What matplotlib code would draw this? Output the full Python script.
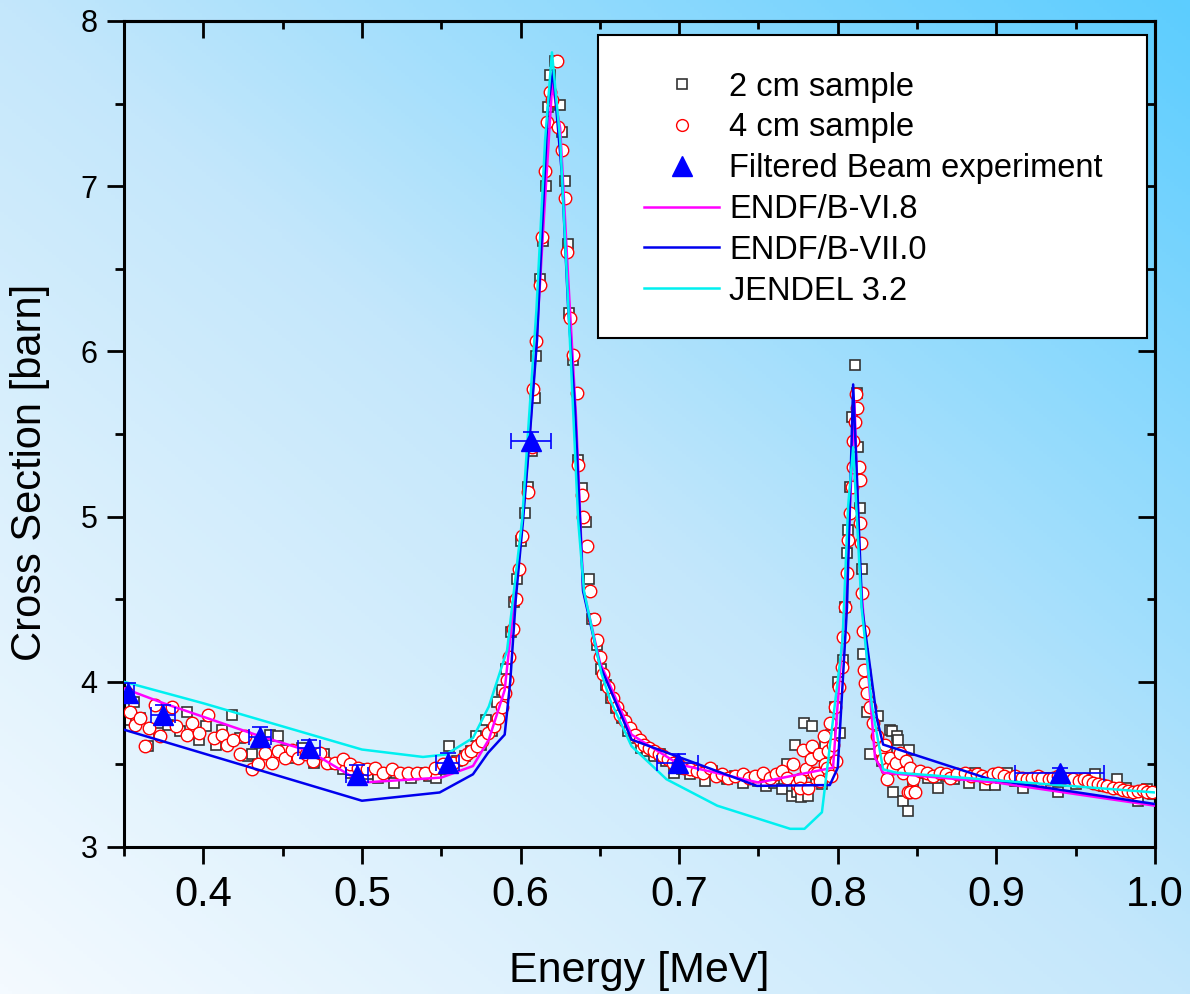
# Sección eficaz total: muestras de 2 cm y 4 cm, haz filtrado y evaluaciones
import numpy as np
import matplotlib
matplotlib.use('Agg')
import matplotlib.pyplot as plt
from matplotlib.colors import LinearSegmentedColormap
from matplotlib.lines import Line2D
from matplotlib.patches import Rectangle

plt.rcParams['font.family'] = ['Liberation Sans', 'DejaVu Sans']

# --- 2 cm sample (cuadrados) ---
sq_x = [0.351, 0.356, 0.360, 0.365, 0.372, 0.378, 0.385, 0.390, 0.397, 0.402,
        0.408, 0.412, 0.418, 0.423, 0.428, 0.431, 0.436, 0.442, 0.447, 0.452,
        0.458, 0.462, 0.470, 0.476, 0.482, 0.488, 0.493, 0.498, 0.504, 0.510,
        0.515, 0.520, 0.526, 0.531, 0.537, 0.542, 0.547, 0.552, 0.555, 0.560,
        0.565, 0.569, 0.572, 0.575, 0.578, 0.582, 0.585,
        0.588, 0.591, 0.594, 0.596, 0.598, 0.600, 0.603, 0.605, 0.607, 0.609,
        0.610, 0.612, 0.614, 0.616, 0.6173, 0.6186, 0.6217, 0.625, 0.626, 0.628,
        0.630, 0.6306, 0.633, 0.636, 0.6388, 0.641, 0.643, 0.645, 0.648, 0.651,
        0.654, 0.657, 0.660, 0.664, 0.668, 0.672, 0.676, 0.680, 0.684, 0.688,
        0.692, 0.697, 0.702, 0.707, 0.712, 0.716, 0.721, 0.726, 0.730, 0.735,
        0.740, 0.745, 0.750, 0.755, 0.760,
        0.765, 0.768, 0.771, 0.773, 0.774, 0.777, 0.779, 0.781, 0.783, 0.784,
        0.786, 0.788, 0.790, 0.792, 0.794, 0.796, 0.798, 0.800,
        0.8015, 0.803, 0.8046, 0.806, 0.8065, 0.808, 0.809, 0.811, 0.812, 0.813,
        0.814, 0.815, 0.816, 0.8185, 0.8205, 0.8255, 0.828, 0.831, 0.833, 0.834,
        0.835, 0.8375, 0.838, 0.841, 0.844, 0.845, 0.8475, 0.852, 0.857, 0.863,
        0.868, 0.873, 0.878, 0.883, 0.8866, 0.893, 0.899, 0.903, 0.907, 0.912,
        0.917, 0.922, 0.928, 0.933, 0.939, 0.944, 0.950, 0.956, 0.962, 0.968,
        0.976, 0.982, 0.989, 0.995, 0.999]
sq_y = [3.77, 3.88, 3.78, 3.61, 3.69, 3.74, 3.70, 3.82, 3.65, 3.73,
        3.62, 3.71, 3.80, 3.66, 3.55, 3.56, 3.63, 3.68, 3.67, 3.59,
        3.54, 3.60, 3.51, 3.56, 3.50, 3.47, 3.45, 3.47, 3.44, 3.42,
        3.45, 3.39, 3.44, 3.42, 3.45, 3.43, 3.42, 3.47, 3.61, 3.52,
        3.55, 3.58, 3.67, 3.62, 3.77, 3.70, 3.88,
        3.95, 4.08, 4.30, 4.48, 4.62, 4.85, 5.02, 5.18, 5.40, 5.72,
        5.97, 6.44, 6.67, 7.00, 7.48, 7.67, 7.76, 7.49, 7.33, 7.03,
        6.65, 6.23, 5.95, 5.34, 5.17, 4.97, 4.62, 4.38, 4.22, 4.08,
        3.98, 3.90, 3.84, 3.78, 3.70, 3.66, 3.60, 3.58, 3.55, 3.56,
        3.52, 3.45, 3.47, 3.44, 3.46, 3.40, 3.46, 3.43, 3.41, 3.43,
        3.39, 3.42, 3.40, 3.37, 3.39,
        3.35, 3.50, 3.31, 3.62, 3.33, 3.30, 3.75, 3.31, 3.45, 3.73,
        3.40, 3.55, 3.38, 3.62, 3.45, 3.68, 3.85, 4.00,
        3.69, 4.13, 4.45, 4.78, 4.92, 5.18, 5.60, 5.92, 5.75, 5.42,
        5.05, 4.68, 4.17, 3.82, 3.56, 3.79, 3.52, 3.60, 3.71, 3.70,
        3.33, 3.67, 3.65, 3.28, 3.22, 3.59, 3.375, 3.45, 3.42, 3.36,
        3.43, 3.41, 3.44, 3.39, 3.45, 3.375, 3.375, 3.42, 3.45, 3.40,
        3.36, 3.41, 3.39, 3.42, 3.33, 3.40, 3.38, 3.41, 3.44, 3.37,
        3.41, 3.36, 3.28, 3.35, 3.32]

# --- 4 cm sample (círculos) ---
ci_x = [0.352, 0.354, 0.357, 0.360, 0.363, 0.366, 0.3695, 0.373, 0.380, 0.383,
        0.390, 0.393, 0.397, 0.403, 0.407, 0.412, 0.415, 0.419, 0.423, 0.426,
        0.431, 0.4345, 0.439, 0.443, 0.447, 0.4515, 0.456, 0.460, 0.465, 0.469,
        0.4736, 0.478, 0.483, 0.488, 0.4925, 0.4975, 0.503, 0.508, 0.513, 0.519,
        0.524, 0.529, 0.535, 0.540, 0.546, 0.551, 0.5575, 0.563, 0.566, 0.569,
        0.5725, 0.576, 0.5795, 0.583, 0.586, 0.588, 0.590, 0.5915, 0.593, 0.595,
        0.597, 0.599, 0.601, 0.6047, 0.6073, 0.608, 0.610, 0.6123, 0.6135, 0.6155,
        0.6167, 0.6186, 0.6198, 0.623, 0.6237, 0.626, 0.628, 0.6293, 0.6312, 0.633,
        0.6356, 0.636, 0.6388, 0.6394, 0.642, 0.644, 0.646, 0.648, 0.650, 0.652,
        0.655, 0.658, 0.661, 0.663, 0.666, 0.669, 0.672, 0.675, 0.678, 0.681,
        0.684, 0.687, 0.690, 0.693, 0.696, 0.699, 0.703, 0.707, 0.711, 0.715,
        0.7195, 0.723, 0.727, 0.731, 0.735, 0.740, 0.744, 0.748, 0.753, 0.757,
        0.761, 0.765, 0.768, 0.772, 0.774, 0.776, 0.776, 0.778, 0.780, 0.781,
        0.783, 0.784, 0.785, 0.787, 0.788, 0.789, 0.791, 0.792, 0.793, 0.794,
        0.795, 0.796, 0.797, 0.798, 0.799, 0.801, 0.8025, 0.8035, 0.8046, 0.806,
        0.8065, 0.8078, 0.809, 0.8093, 0.8097, 0.811, 0.8122, 0.8115, 0.8135, 0.814,
        0.8142, 0.8145, 0.815, 0.816, 0.8163, 0.817, 0.8185, 0.8205, 0.822, 0.8248,
        0.8267, 0.8286, 0.830, 0.831, 0.831, 0.833, 0.835, 0.837, 0.839, 0.841,
        0.843, 0.844, 0.8456, 0.8456, 0.8475, 0.8488, 0.852, 0.856, 0.860, 0.8645,
        0.868, 0.871, 0.875, 0.880, 0.884, 0.888, 0.891, 0.894, 0.898, 0.901,
        0.905, 0.9087, 0.912, 0.916, 0.919, 0.9225, 0.926, 0.929, 0.933, 0.936,
        0.939, 0.942, 0.945, 0.948, 0.952, 0.955, 0.958, 0.961, 0.964, 0.967,
        0.970, 0.9736, 0.977, 0.980, 0.983, 0.986, 0.989, 0.9925, 0.995, 0.998]
ci_y = [3.93, 3.82, 3.74, 3.78, 3.61, 3.72, 3.86, 3.67, 3.85, 3.73,
        3.68, 3.75, 3.69, 3.80, 3.66, 3.68, 3.62, 3.65, 3.56, 3.67,
        3.47, 3.50, 3.57, 3.51, 3.58, 3.54, 3.59, 3.54, 3.56, 3.52,
        3.57, 3.51, 3.51, 3.53, 3.50, 3.48, 3.47, 3.48, 3.45, 3.47,
        3.45, 3.45, 3.45, 3.45, 3.48, 3.50, 3.51, 3.53, 3.56, 3.58,
        3.61, 3.64, 3.69, 3.73, 3.78, 3.85, 3.93, 4.01, 4.15, 4.32,
        4.50, 4.68, 4.88, 5.15, 5.42, 5.77, 6.06, 6.40, 6.69, 7.09,
        7.39, 7.57, 7.52, 7.76, 7.36, 7.22, 6.93, 6.60, 6.20, 5.98,
        5.75, 5.31, 5.13, 5.00, 4.82, 4.55, 4.38, 4.25, 4.15, 4.05,
        3.97, 3.90, 3.85, 3.80, 3.76, 3.72, 3.68, 3.65, 3.62, 3.60,
        3.58, 3.56, 3.55, 3.53, 3.51, 3.50, 3.48, 3.47, 3.46, 3.45,
        3.48, 3.43, 3.44, 3.42, 3.43, 3.44, 3.42, 3.43, 3.45, 3.42,
        3.44, 3.46, 3.42, 3.50, 3.38, 3.41, 3.36, 3.59, 3.47, 3.36,
        3.53, 3.61, 3.45, 3.45, 3.56, 3.40, 3.67, 3.50, 3.48, 3.58,
        3.75, 3.43, 3.62, 3.85, 3.52, 3.97, 4.09, 4.27, 4.45, 4.66,
        4.86, 5.02, 5.18, 5.30, 5.46, 5.57, 5.66, 5.74, 5.30, 5.22,
        4.96, 4.84, 4.54, 4.31, 4.07, 3.99, 3.93, 3.85, 3.75, 3.67,
        3.59, 3.53, 3.62, 3.47, 3.41, 3.54, 3.48, 3.51, 3.57, 3.45,
        3.52, 3.33, 3.48, 3.33, 3.41, 3.33, 3.46, 3.45, 3.43, 3.45,
        3.44, 3.42, 3.44, 3.45, 3.43, 3.44, 3.43, 3.42, 3.44, 3.45,
        3.43, 3.42, 3.43, 3.42, 3.41, 3.42, 3.43, 3.42, 3.41, 3.42,
        3.43, 3.42, 3.41, 3.41, 3.40, 3.41, 3.40, 3.39, 3.38, 3.375,
        3.37, 3.36, 3.36, 3.345, 3.34, 3.33, 3.34, 3.345, 3.33, 3.33]

# --- Filtered Beam experiment ---
fb_x = [0.3525, 0.3746, 0.4358, 0.4666, 0.497, 0.554, 0.6066, 0.699, 0.940]
fb_y = [3.93, 3.80, 3.666, 3.60, 3.436, 3.51, 5.46, 3.51, 3.45]
fb_xerr = [0.004, 0.0075, 0.007, 0.007, 0.007, 0.007, 0.0126, 0.013, 0.028]
fb_yerr = [0.06, 0.06, 0.06, 0.05, 0.06, 0.06, 0.05, 0.05, 0.03]

# --- Evaluaciones ---
vi8_x = [0.35, 0.375, 0.436, 0.467, 0.50, 0.55, 0.57, 0.58, 0.59, 0.60, 0.605,
         0.61, 0.615, 0.62, 0.625, 0.63, 0.635, 0.6395, 0.65, 0.67, 0.70, 0.75,
         0.797, 0.806, 0.8105, 0.814, 0.8235, 0.8286, 0.90, 1.0]
vi8_y = [3.96, 3.87, 3.67, 3.58, 3.39, 3.42, 3.49, 3.65, 3.95, 4.85, 5.40,
         6.05, 6.85, 7.62, 7.35, 6.45, 5.60, 4.56, 4.12, 3.68, 3.50, 3.39,
         3.48, 4.66, 5.70, 4.66, 3.54, 3.45, 3.39, 3.25]

vii0_x = [0.35, 0.50, 0.549, 0.57, 0.5795, 0.59, 0.5935, 0.597, 0.6016, 0.606,
          0.6104, 0.6142, 0.6173, 0.6205, 0.626, 0.630, 0.6343, 0.6375, 0.6394,
          0.65, 0.670, 0.749, 0.795, 0.800, 0.8058, 0.8097, 0.8153, 0.8248,
          0.8286, 0.896, 1.0]
vii0_y = [3.71, 3.28, 3.33, 3.44, 3.57, 3.68, 4.00, 4.50, 4.98, 5.51,
          6.07, 6.87, 7.48, 7.70, 7.08, 6.27, 5.66, 4.98, 4.55,
          4.10, 3.65, 3.37, 3.375, 3.48, 4.45, 5.80, 4.45, 3.77,
          3.62, 3.41, 3.26]

jendl_x = [0.35, 0.40, 0.50, 0.5385, 0.553, 0.570, 0.58, 0.5915, 0.601, 0.605,
           0.610, 0.6155, 0.6198, 0.625, 0.630, 0.6363, 0.640, 0.651, 0.6565,
           0.670, 0.692, 0.724, 0.770, 0.779, 0.790, 0.803, 0.8065, 0.8097,
           0.815, 0.8216, 0.8286, 0.837, 1.0]
jendl_y = [4.00, 3.87, 3.59, 3.545, 3.56, 3.66, 3.85, 4.19, 4.98, 5.55,
           6.25, 7.28, 7.81, 7.28, 6.30, 4.98, 4.55, 4.05, 3.89,
           3.61, 3.41, 3.25, 3.11, 3.11, 3.21, 4.25, 5.06, 5.42,
           4.45, 3.85, 3.47, 3.45, 3.33]

# Figura con fondo degradado
fig = plt.figure(figsize=(11.9, 9.94), dpi=100)
bg = fig.add_axes([0, 0, 1, 1], zorder=-10)
gx, gy = np.meshgrid(np.linspace(0, 1, 300), np.linspace(0, 1, 300))
bg_cmap = LinearSegmentedColormap.from_list('fondo', ['#f4faff', '#c4e7fb', '#5ccdff'])
bg.imshow((gx + gy) / 2, cmap=bg_cmap, origin='lower', extent=[0, 1, 0, 1], aspect='auto')
bg.axis('off')

ax = fig.add_axes([0.1042, 0.1479, 0.8664, 0.831])
ax.patch.set_alpha(0)

ax.plot(sq_x, sq_y, 's', ls='none', mfc='white', mec='#333333', ms=7, mew=1.2, zorder=2)
ax.plot(ci_x, ci_y, 'o', ls='none', mfc='white', mec='red', ms=9, mew=1.0, zorder=3)
ax.plot(vi8_x, vi8_y, color='#ff00ff', lw=1.8, zorder=4)
ax.plot(vii0_x, vii0_y, color='#0000ee', lw=1.8, zorder=4)
ax.plot(jendl_x, jendl_y, color='#00f0f0', lw=1.8, zorder=4)
ax.errorbar(fb_x, fb_y, xerr=fb_xerr, yerr=fb_yerr, fmt='^', color='blue',
            ms=14, elinewidth=1.2, capsize=6, capthick=1.2, zorder=5)

ax.set_xlim(0.35, 1.0)
ax.set_ylim(3, 8)
ax.set_xticks(np.arange(0.4, 1.01, 0.1))
ax.set_xticks(np.arange(0.35, 1.01, 0.1), minor=True)
ax.set_xticklabels(['0.4', '0.5', '0.6', '0.7', '0.8', '0.9', '1.0'])
ax.set_yticks(np.arange(3, 8.1, 1))
ax.set_yticks(np.arange(3.5, 8, 1), minor=True)

for s in ax.spines.values():
    s.set_linewidth(2.2)
ax.tick_params(axis='both', which='major', direction='out', length=12, width=2)
ax.tick_params(axis='both', which='minor', direction='out', length=6.5, width=2)
ax.tick_params(axis='x', labelsize=30, pad=8)
ax.tick_params(axis='y', labelsize=22, pad=7)

top = ax.secondary_xaxis('top')
top.set_xticks(np.arange(0.4, 1.01, 0.1))
top.set_xticks(np.arange(0.35, 1.01, 0.1), minor=True)
top.tick_params(which='major', direction='in', length=12, width=2, labeltop=False)
top.tick_params(which='minor', direction='in', length=6, width=2)
top.spines['top'].set_linewidth(2.2)

right = ax.secondary_yaxis('right')
right.set_yticks(np.arange(3, 8.1, 1))
right.set_yticks(np.arange(3.5, 8, 1), minor=True)
right.tick_params(which='major', direction='in', length=12, width=2, labelright=False)
right.tick_params(which='minor', direction='in', length=6, width=2)
right.spines['right'].set_linewidth(2.2)

ax.set_xlabel('Energy [MeV]', fontsize=31, labelpad=26)
ax.set_ylabel('Cross Section [barn]', fontsize=30)
ax.yaxis.set_label_coords(-0.072, 0.453)

# Leyenda: marco dibujado aparte
ax.add_patch(Rectangle((0.4597, 0.6162), 0.5325, 0.3668, transform=ax.transAxes,
                       facecolor='white', edgecolor='black', lw=1.5, zorder=6))
handles = [
    Line2D([], [], ls='none', marker='s', mfc='white', mec='#333333', ms=7, mew=1.2),
    Line2D([], [], ls='none', marker='o', mfc='white', mec='red', ms=8.5, mew=1.0),
    Line2D([], [], ls='none', marker='^', color='blue', ms=14),
    Line2D([], [], color='#ff00ff', lw=1.8),
    Line2D([], [], color='#0000ee', lw=1.8),
    Line2D([], [], color='#00f0f0', lw=1.8),
]
labels = ['2 cm sample', '4 cm sample', 'Filtered Beam experiment',
          'ENDF/B-VI.8', 'ENDF/B-VII.0', 'JENDEL 3.2']
leg = ax.legend(handles, labels, loc='upper right', bbox_to_anchor=(0.992, 0.992),
                fontsize=23.5, frameon=False, borderpad=1.35,
                labelspacing=0.3, handlelength=2.3, handletextpad=0.3,
                borderaxespad=0)
leg.set_zorder(7)

fig.savefig('out.png', dpi=100)
